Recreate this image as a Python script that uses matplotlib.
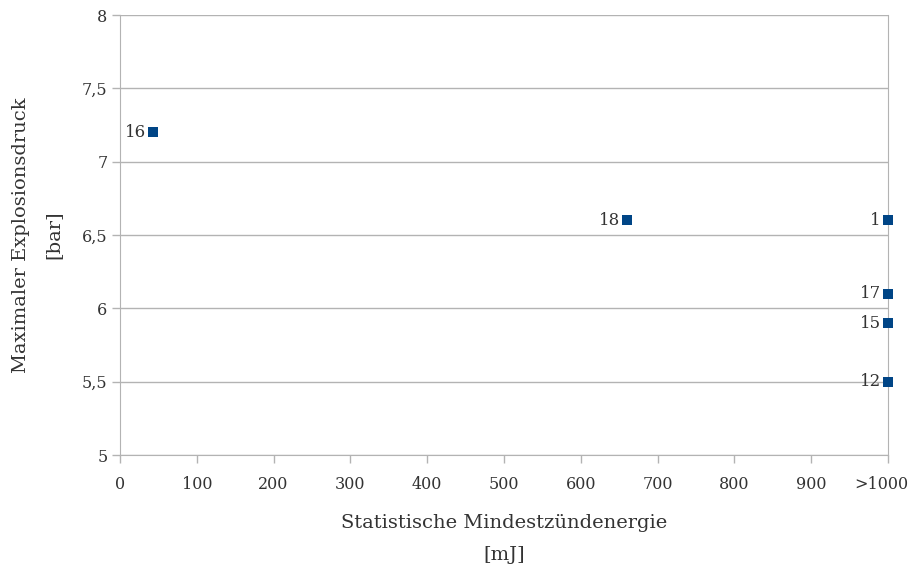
import matplotlib.pyplot as plt
from matplotlib.transforms import ScaledTranslation

# Mindestzündenergie (>1000 mJ auf 1000 gesetzt) und maximaler Explosionsdruck
energie = [43, 660, 1000, 1000, 1000, 1000]
druck = [7.2, 6.6, 6.6, 6.1, 5.9, 5.5]
nummern = ['16', '18', '1', '17', '15', '12']

x_ticks = [0, 100, 200, 300, 400, 500, 600, 700, 800, 900, 1000]
x_labels = ['0', '100', '200', '300', '400', '500', '600', '700', '800', '900', '>1000']
y_ticks = [5, 5.5, 6, 6.5, 7, 7.5, 8]
y_labels = ['5', '5,5', '6', '6,5', '7', '7,5', '8']

plt.rcParams['font.family'] = ['DejaVu Serif']
grau = '#b3b3b3'
textfarbe = '#333333'

fig = plt.figure(figsize=(9.1, 5.69), dpi=100)
ax = fig.add_axes([0.1319, 0.2003, 0.8439, 0.7733])

ax.scatter(energie, druck, marker='s', s=44, linewidths=0, color='#004586', zorder=3, clip_on=False)
for x, y, n in zip(energie, druck, nummern):
    ax.annotate(n, (x, y), xytext=(-5, 0), textcoords='offset points',
                ha='right', va='center', fontsize=12, color=textfarbe)

ax.set_xlim(0, 1000)
ax.set_ylim(5, 8)
ax.set_xticks(x_ticks)
ax.set_xticklabels(x_labels)
ax.set_yticks(y_ticks)
ax.set_yticklabels(y_labels)
ax.tick_params(colors=grau, labelcolor=textfarbe, labelsize=11.5, length=6, width=1)
ax.tick_params(axis='x', pad=9)
ax.tick_params(axis='y', pad=3)
# letzte Beschriftung etwas nach links, damit sie im Bild bleibt
letzte = ax.get_xticklabels()[-1]
letzte.set_transform(letzte.get_transform() + ScaledTranslation(-5 / 72, 0, fig.dpi_scale_trans))

ax.grid(axis='y', color=grau, linewidth=1)
ax.set_axisbelow(True)
for s in ['left', 'bottom', 'right']:
    ax.spines[s].set_color(grau)
ax.spines['top'].set_visible(False)

ax.set_xlabel('Statistische Mindestzündenergie\n[mJ]', fontsize=14, color=textfarbe,
              linespacing=2.05, labelpad=15)
ax.set_ylabel('Maximaler Explosionsdruck\n[bar]', fontsize=14, color=textfarbe,
              linespacing=2.0, labelpad=14)

plt.savefig('out.png', dpi=100)
